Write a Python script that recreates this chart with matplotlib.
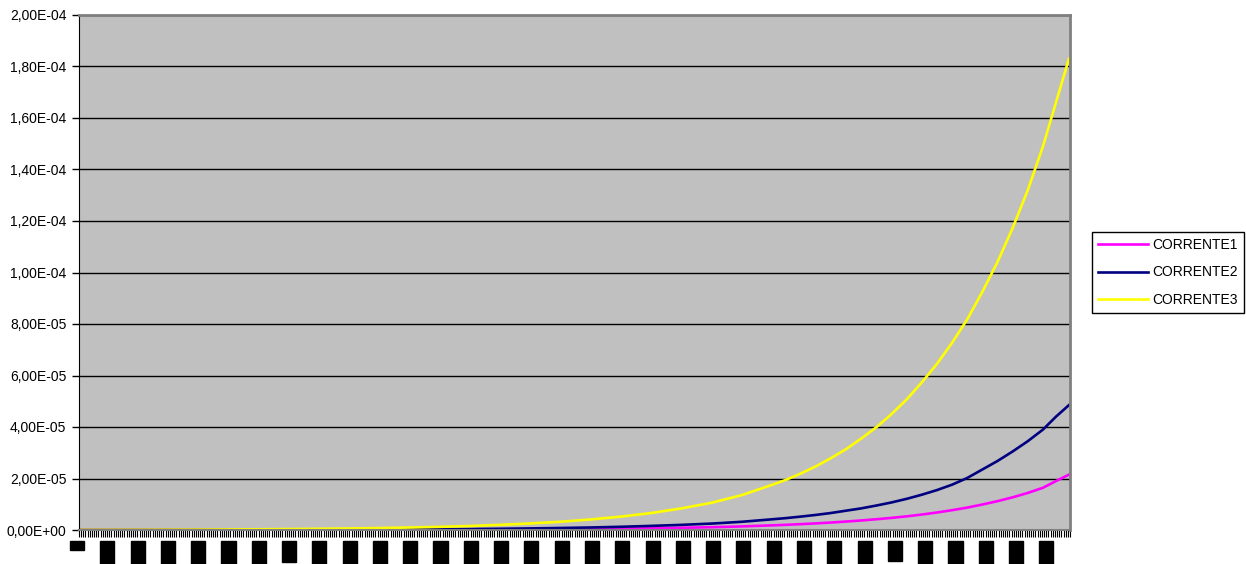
import matplotlib
matplotlib.use("Agg")
import matplotlib.pyplot as plt
from matplotlib.ticker import FixedLocator, FuncFormatter
from matplotlib.transforms import offset_copy

plt.rcParams['font.family'] = ['Liberation Sans', 'DejaVu Sans']

# number of categories on the x axis and the sampled category indexes
n_cat = 458
cat = [1, 15, 29, 43, 57, 70, 84, 98, 112, 126, 140, 154, 168, 182, 195, 209, 223,
       237, 251, 265, 279, 293, 307, 320, 327, 334, 341, 348, 355, 362, 369, 376,
       383, 390, 397, 404, 411, 418, 425, 432, 439, 446, 452, 458]

# values (in units of 1e-6)
corrente1 = [0.01, 0.01, 0.01, 0.02, 0.02, 0.02, 0.03, 0.04, 0.05, 0.06, 0.08, 0.10,
             0.13, 0.16, 0.20, 0.26, 0.33, 0.42, 0.53, 0.67, 0.86, 1.09, 1.40, 1.78,
             2.00, 2.27, 2.57, 2.90, 3.28, 3.70, 4.18, 4.70, 5.30, 6.00, 6.80, 7.70,
             8.70, 9.90, 11.2, 12.7, 14.4, 16.4, 19.0, 21.5]
corrente2 = [0.02, 0.02, 0.03, 0.04, 0.05, 0.06, 0.07, 0.09, 0.12, 0.15, 0.19, 0.24,
             0.30, 0.38, 0.48, 0.62, 0.78, 0.98, 1.25, 1.60, 2.00, 2.50, 3.20, 4.10,
             4.60, 5.20, 5.85, 6.60, 7.50, 8.40, 9.50, 10.7, 12.1, 13.7, 15.5, 17.6,
             20.2, 23.5, 26.8, 30.5, 34.5, 39.0, 44.0, 48.5]
corrente3 = [0.07, 0.09, 0.11, 0.14, 0.18, 0.23, 0.29, 0.37, 0.48, 0.60, 0.77, 0.97,
             1.24, 1.57, 2.00, 2.54, 3.20, 4.10, 5.20, 6.60, 8.40, 10.6, 13.6, 17.3,
             19.4, 21.9, 24.7, 27.9, 31.4, 35.5, 39.9, 45.0, 50.7, 57.3, 64.5, 72.7,
             81.8, 92.5, 104.1, 117.3, 132.0, 149.0, 166.0, 183.0]

# x axis labels (one every 14 categories)
x_labels = ['0', '0,0014', '0,0028', '0,0042', '0,0056', '0,0070', '0,0084', '0,1',
            '0,0112', '0,0126', '0,0140', '0,0154', '0,0168', '0,0182', '0,0196',
            '0,0210', '0,0224', '0,0238', '0,0252', '0,0266', '0,0280', '0,0294',
            '0,0308', '0,0322', '0,0336', '0,0350', '0,0364', '0,4', '0,0392',
            '0,0406', '0,0420', '0,0434', '0,0448']

series = [('CORRENTE1', corrente1, '#FF00FF'),
          ('CORRENTE2', corrente2, '#000080'),
          ('CORRENTE3', corrente3, '#FFFF00')]

fig = plt.figure(figsize=(12.46, 5.64), dpi=100)
ax = fig.add_axes([79/1246, 1-530/564, (1070-79)/1246, (530-15)/564])
ax.set_facecolor('#C0C0C0')

for name, vals, col in series:
    ax.plot([c - 0.5 for c in cat], [v * 1e-6 for v in vals], color=col, lw=1.9,
            label=name, solid_joinstyle='round')

ax.set_xlim(0, n_cat)
ax.set_ylim(0, 2e-4)
ax.set_yticks([i * 2e-5 for i in range(11)])
ax.yaxis.set_major_formatter(FuncFormatter(lambda v, p: ('%.2E' % v).replace('.', ',')))
ax.yaxis.grid(True, color='black', lw=1)
ax.set_axisbelow(True)
ax.tick_params(axis='y', length=5, width=1, labelsize=10, pad=4, color='black')

# category ticks (tick marks between categories)
ax.xaxis.set_minor_locator(FixedLocator(list(range(n_cat + 1))))
ax.set_xticks([])
ax.tick_params(axis='x', which='minor', length=5, width=0.8, color='black')

# the category labels render as solid black blocks
lab_tr = offset_copy(ax.get_xaxis_transform(), fig=fig, x=-2, y=-12, units='dots')
for i, lab in enumerate(x_labels):
    ax.text(14 * i, 0, lab, transform=lab_tr, rotation=90, ha='center', va='top',
            fontsize=9.5, color='black', clip_on=False,
            bbox=dict(facecolor='black', edgecolor='black', pad=0.8))

for s in ['top', 'right']:
    ax.spines[s].set_color('#808080')
    ax.spines[s].set_linewidth(2)
ax.spines['left'].set_color('black')
ax.spines['bottom'].set_color('#808080')
ax.spines['bottom'].set_linewidth(1.5)

leg = ax.legend(loc='upper left', bbox_to_anchor=(1092/1246, 1-232/564),
                bbox_transform=fig.transFigure, borderaxespad=0, fancybox=False,
                edgecolor='black', framealpha=1, fontsize=10, handlelength=3.6,
                handletextpad=0.3, labelspacing=0.95, borderpad=0.45)
leg.get_frame().set_linewidth(1)

fig.savefig('out.png', dpi=100)
